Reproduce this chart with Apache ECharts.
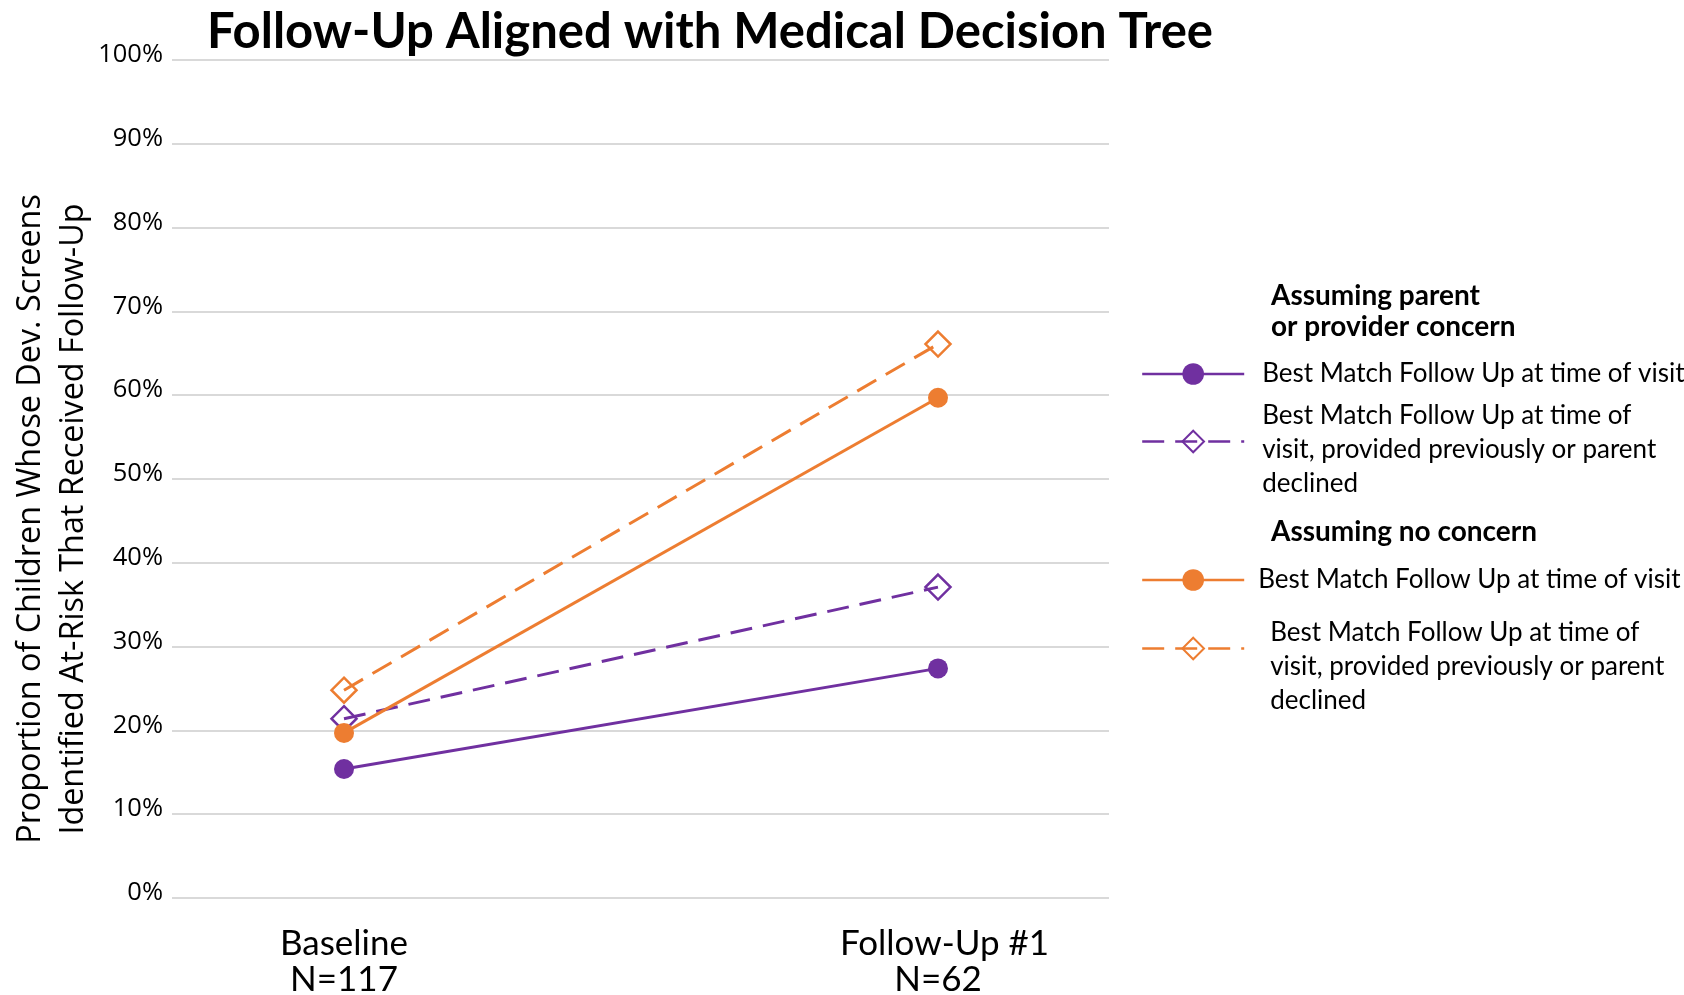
<!DOCTYPE html>
<html>
<head>
<meta charset="utf-8">
<script src="https://cdn.jsdelivr.net/npm/echarts@6/dist/echarts.min.js"></script>
<style>
html,body{margin:0;padding:0;background:#fff;}
#chart{width:1684px;height:995px;}
</style>
</head>
<body>
<div id="chart"></div>
<script>
const chartTitle = 'Follow-Up Aligned with Medical Decision Tree';
const yAxisTitle = 'Proportion of Children Whose Dev. Screens\nIdentified At-Risk That Received Follow-Up';
const categories = ['Baseline\nN=117', 'Follow-Up #1\nN=62'];
const yMin = 0, yMax = 100, yStep = 10;

const concernAtVisit = [15.4, 27.4];
const concernPrevOrDeclined = [21.4, 37.1];
const noConcernAtVisit = [19.7, 59.7];
const noConcernPrevOrDeclined = [24.8, 66.1];

const seriesNames = [
  'Concern: Best Match Follow Up at time of visit',
  'Concern: Best Match Follow Up at time of visit, provided previously or parent declined',
  'No concern: Best Match Follow Up at time of visit',
  'No concern: Best Match Follow Up at time of visit, provided previously or parent declined'
];
const legendLabels = [
  ['Best Match Follow Up at time of visit'],
  ['Best Match Follow Up at time of', 'visit, provided previously or parent', 'declined'],
  ['Best Match Follow Up at time of visit'],
  ['Best Match Follow Up at time of', 'visit, provided previously or parent', 'declined']
];
const legendHeaders = ['Assuming parent\nor provider concern', 'Assuming no concern'];

const PURPLE = '#7030A0';
const ORANGE = '#ED7D31';

const chart = echarts.init(document.getElementById('chart'));

function lineSeries(idx, data, color, dashed) {
  return {
    name: seriesNames[idx],
    type: 'line',
    xAxisIndex: 1,
    yAxisIndex: 1,
    data: data,
    symbol: dashed ? 'diamond' : 'circle',
    symbolSize: dashed ? 25 : 20,
    lineStyle: { color: color, width: 3, type: dashed ? [22, 11] : 'solid' },
    itemStyle: dashed
      ? { color: 'rgba(255,255,255,0)', borderColor: color, borderWidth: 2.5 }
      : { color: color, borderWidth: 0 },
    emphasis: { disabled: true },
    animation: false
  };
}

function legendItem(idx, top, padLeft, padTop) {
  return {
    show: true,
    left: 1141,
    top: top,
    padding: 0,
    itemWidth: 102,
    itemHeight: 27,
    selectedMode: false,
    data: [seriesNames[idx]],
    lineStyle: { width: 2.4 },
    formatter: function () {
      return legendLabels[idx].map(function (s) { return '{t|' + s + '}'; }).join('\n');
    },
    textStyle: {
      padding: [padTop, 0, 0, padLeft],
      rich: { t: { fontFamily: 'Lato', fontSize: 26, lineHeight: 34, color: '#000' } }
    }
  };
}

chart.setOption({
  backgroundColor: '#fff',
  animation: false,
  grid: [
    { left: 172, right: 575, top: 60, bottom: 97, outerBoundsMode: 'none', containLabel: false },
    { left: 344, right: 746, top: 60, bottom: 97, outerBoundsMode: 'none', containLabel: false }
  ],
  xAxis: [
    { type: 'category', gridIndex: 0, show: false, data: categories },
    {
      type: 'category', gridIndex: 1, data: categories, boundaryGap: false,
      axisLine: { show: false }, axisTick: { show: false }, splitLine: { show: false },
      axisLabel: {
        margin: 28,
        formatter: function (value, index) {
          const key = index === 1 ? 'b' : 'a';
          const lines = value.split('\n');
          return '{' + key + '|' + lines[0] + '}\n{a|' + lines[1] + '}';
        },
        rich: {
          a: { fontFamily: 'Lato', fontSize: 35, lineHeight: 36, color: '#000' },
          b: { fontFamily: 'Lato', fontSize: 35, lineHeight: 36, color: '#000', padding: [0, 0, 0, 13] }
        }
      }
    }
  ],
  yAxis: [
    {
      type: 'value', gridIndex: 0, min: yMin, max: yMax, interval: yStep,
      axisLine: { show: false }, axisTick: { show: false },
      splitLine: { lineStyle: { color: '#d9d9d9', width: 2 } },
      axisLabel: {
        formatter: '{value}%', fontFamily: 'Open Sans', fontSize: 25.5, color: '#000',
        margin: 9, verticalAlign: 'bottom', lineHeight: 10
      }
    },
    { type: 'value', gridIndex: 1, min: yMin, max: yMax, interval: yStep, show: false, splitLine: { show: false } }
  ],
  legend: [
    legendItem(0, 361, 13, 0),
    legendItem(1, 403, 13, 17),
    legendItem(2, 567, 9, 0),
    legendItem(3, 620, 21, 37)
  ],
  graphic: [
    {
      type: 'text', x: 710, y: 32,
      style: { text: chartTitle, align: 'center', verticalAlign: 'middle',
        font: 'bold 49px Lato', fill: '#000' }
    },
    {
      type: 'text', x: 52, y: 519, rotation: Math.PI / 2,
      style: { text: yAxisTitle, align: 'center', verticalAlign: 'middle',
        fontFamily: 'Open Sans', fontSize: 32.3, lineHeight: 43, fill: '#000' }
    },
    {
      type: 'text', x: 1271, y: 311,
      style: { text: legendHeaders[0], align: 'left', verticalAlign: 'middle',
        fontFamily: 'Lato', fontWeight: 'bold', fontSize: 28, lineHeight: 31, fill: '#000' }
    },
    {
      type: 'text', x: 1271, y: 532,
      style: { text: legendHeaders[1], align: 'left', verticalAlign: 'middle',
        fontFamily: 'Lato', fontWeight: 'bold', fontSize: 28, lineHeight: 31, fill: '#000' }
    }
  ],
  series: [
    lineSeries(0, concernAtVisit, PURPLE, false),
    lineSeries(1, concernPrevOrDeclined, PURPLE, true),
    lineSeries(2, noConcernAtVisit, ORANGE, false),
    lineSeries(3, noConcernPrevOrDeclined, ORANGE, true)
  ]
});
</script>
</body>
</html>
